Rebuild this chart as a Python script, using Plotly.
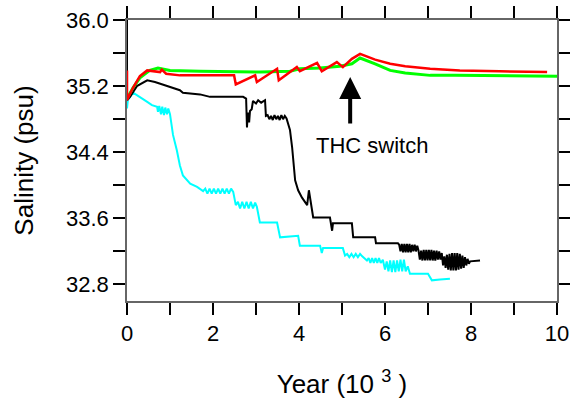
import plotly.graph_objects as go

# ---- data (years in 10^3, salinity in psu) ----
black_x = [0, 0, 0.07, 0.23, 0.47, 0.65, 0.88, 1.23, 1.30, 1.70, 1.93, 2.70, 2.77, 2.79, 2.81, 2.84, 2.86, 2.90, 2.93, 3.00, 3.05, 3.12, 3.21, 3.23,
           3.27, 3.31, 3.35, 3.39, 3.43, 3.47, 3.51, 3.55, 3.59, 3.63, 3.67, 3.71,
           3.79, 3.84, 3.91, 3.98, 4.07, 4.19, 4.23, 4.30, 4.33, 4.72, 4.77, 4.79, 5.23, 5.26, 5.77, 5.79, 6.30,
           6.33, 6.36, 6.39, 6.42, 6.45, 6.48, 6.51, 6.54, 6.57, 6.60, 6.63, 6.66, 6.69, 6.72, 6.75,
           6.78, 6.81, 6.84, 6.87, 6.90, 6.93, 6.96, 6.99, 7.02, 7.05, 7.08, 7.11, 7.14, 7.17, 7.20, 7.23, 7.26, 7.29, 7.32,
           7.35, 7.38, 7.41, 7.44, 7.47, 7.50, 7.53, 7.56, 7.59, 7.62, 7.65, 7.68, 7.71, 7.74, 7.77, 7.80, 7.83, 7.86, 7.89, 7.92, 7.95, 7.98,
           8.21]
black_y = [36.0, 35.03, 35.07, 35.20, 35.27, 35.25, 35.21, 35.15, 35.12, 35.10, 35.07, 35.07, 35.05, 34.70, 34.88, 34.76, 34.90, 34.92, 35.02, 34.99, 35.03, 35.00, 35.03, 34.84,
           34.85, 34.80, 34.84, 34.79, 34.85, 34.80, 34.84, 34.79, 34.85, 34.80, 34.84, 34.81,
           34.67, 34.46, 34.06, 33.94, 33.85, 33.76, 33.94, 33.66, 33.61, 33.61, 33.45, 33.54, 33.54, 33.37, 33.37, 33.30, 33.30,
           33.28, 33.20, 33.29, 33.19, 33.29, 33.19, 33.29, 33.19, 33.29, 33.19, 33.28, 33.20, 33.28, 33.20, 33.27,
           33.21, 33.10, 33.21, 33.09, 33.22, 33.09, 33.22, 33.09, 33.22, 33.09, 33.22, 33.09, 33.21, 33.09, 33.21, 33.10, 33.20, 33.10, 33.18,
           33.03, 33.14, 33.00, 33.16, 32.98, 33.17, 32.97, 33.18, 32.97, 33.18, 32.97, 33.18, 32.98, 33.17, 32.99, 33.15, 33.00, 33.13, 33.03, 33.11, 33.05, 33.08,
           33.09]

cyan_x = [0, 0.02, 0.14, 0.30, 0.47, 0.58, 0.70,
          0.72, 0.75, 0.79, 0.82, 0.86, 0.89, 0.93, 0.96, 1.00,
          1.07, 1.16, 1.23, 1.30, 1.40, 1.47, 1.63, 1.77,
          1.82, 1.87, 1.92, 1.97, 2.02, 2.07, 2.12, 2.17, 2.22, 2.27, 2.32, 2.37, 2.42, 2.47,
          2.53, 2.58, 2.63, 2.68, 2.73, 2.78, 2.83, 2.88, 2.93, 2.98, 3.02,
          3.07, 3.09, 3.49, 3.56, 3.98, 4.02, 4.49, 4.53, 4.56, 5.02, 5.07,
          5.12, 5.17, 5.22, 5.27, 5.32, 5.37, 5.42, 5.47,
          5.58, 5.62, 5.66, 5.70, 5.74, 5.78, 5.82, 5.86, 5.90, 5.95,
          6.00, 6.04, 6.08, 6.12, 6.16, 6.20, 6.24, 6.28, 6.32, 6.36, 6.40, 6.44, 6.48, 6.53,
          6.58, 7.00, 7.09, 7.28, 7.51]
cyan_y = [34.93, 35.03, 35.12, 35.07, 35.01, 34.97, 34.95,
          34.89, 34.96, 34.86, 34.95, 34.85, 34.94, 34.86, 34.93, 34.86,
          34.61, 34.42, 34.24, 34.12, 34.06, 34.02, 33.98, 33.93,
          33.96, 33.90, 33.96, 33.90, 33.96, 33.90, 33.96, 33.90, 33.96, 33.90, 33.96, 33.90, 33.96, 33.92,
          33.76, 33.80, 33.72, 33.80, 33.72, 33.80, 33.72, 33.80, 33.72, 33.79, 33.74,
          33.62, 33.55, 33.55, 33.37, 33.39, 33.27, 33.27, 33.18, 33.24, 33.24, 33.15,
          33.17, 33.13, 33.17, 33.13, 33.17, 33.13, 33.17, 33.14,
          33.09, 33.12, 33.06, 33.12, 33.06, 33.12, 33.06, 33.12, 33.06, 33.10,
          32.98, 33.08, 32.96, 33.09, 32.95, 33.09, 32.95, 33.09, 32.96, 33.10, 32.96, 33.10, 32.96, 33.02,
          32.93, 32.93, 32.85, 32.86, 32.87]

green_x = [0, 0.14, 0.30, 0.53, 0.72, 1.00, 1.70, 3.10, 3.79, 4.02, 4.49, 4.95, 5.23, 5.42, 5.77, 6.12, 6.47, 7.05, 7.63, 10.0]
green_y = [35.05, 35.18, 35.30, 35.39, 35.42, 35.39, 35.38, 35.37, 35.38, 35.41, 35.42, 35.44, 35.47, 35.54, 35.47, 35.39, 35.36, 35.33, 35.33, 35.32]

red_x = [0, 0, 0.14, 0.30, 0.47, 0.65, 0.77, 0.81, 0.91, 1.23, 2.49, 2.53, 2.98, 3.02, 3.49, 3.53, 3.95, 4.02, 4.42, 4.53, 4.88, 5.02, 5.23, 5.42, 5.77, 6.12, 6.47, 7.05, 7.74, 8.67, 9.77]
red_y = [35.39, 35.03, 35.18, 35.32, 35.39, 35.38, 35.37, 35.40, 35.35, 35.33, 35.33, 35.22, 35.33, 35.25, 35.41, 35.27, 35.43, 35.38, 35.48, 35.38, 35.49, 35.43, 35.53, 35.59, 35.52, 35.47, 35.44, 35.41, 35.39, 35.38, 35.37]

x_ticks = list(range(0, 11))
x_labels = [str(v) if v % 2 == 0 else "" for v in x_ticks]
y_ticks = [32.8, 33.2, 33.6, 34.0, 34.4, 34.8, 35.2, 35.6, 36.0]
y_labels = ["32.8", "", "33.6", "", "34.4", "", "35.2", "", "36.0"]

FONT = "Liberation Sans, Arial, sans-serif"

fig = go.Figure()
fig.add_trace(go.Scatter(x=cyan_x, y=cyan_y, mode="lines", line=dict(color="#00ffff", width=2)))
fig.add_trace(go.Scatter(x=black_x, y=black_y, mode="lines", line=dict(color="black", width=2)))
fig.add_trace(go.Scatter(x=green_x, y=green_y, mode="lines", line=dict(color="#00ff00", width=3)))
fig.add_trace(go.Scatter(x=red_x, y=red_y, mode="lines", line=dict(color="#ff0000", width=2.5)))

fig.add_annotation(x=5.19, y=35.31, ax=0, ay=48, text="", showarrow=True,
                   arrowhead=2, arrowwidth=4, arrowsize=1.1, arrowcolor="black")
fig.add_annotation(x=5.70, y=34.485, text="THC switch", showarrow=False,
                   font=dict(size=22, color="black", family=FONT))

axis_common = dict(showgrid=False, zeroline=False, showline=True, linecolor="#666666", linewidth=1.5,
                   ticks="outside", ticklen=12, tickwidth=1.5, tickcolor="black", mirror="ticks",
                   ticklabeloverflow="allow",
                   tickfont=dict(size=22, color="black", family=FONT))

fig.update_xaxes(range=[0, 10], tickvals=x_ticks, ticktext=x_labels,
                 title=dict(text="Year (10 <sup>3</sup> )", font=dict(size=26, color="black", family=FONT), standoff=30),
                 **axis_common)
fig.update_yaxes(range=[32.6, 36.0], tickvals=y_ticks, ticktext=y_labels,
                 title=dict(text="Salinity (psu)", font=dict(size=26, color="black", family=FONT), standoff=25),
                 **axis_common)

fig.update_layout(width=570, height=407, margin=dict(l=127, r=13, t=20, b=106, autoexpand=False),
                  plot_bgcolor="white", paper_bgcolor="white", showlegend=False,
                  font=dict(family=FONT, color="black"))

# remove the default 8px body margin so the figure fills the 570x407 window exactly
fig.write_html("out.html", config={"displayModeBar": False},
               post_script="document.body.style.margin='0px';document.body.style.overflow='hidden';")
